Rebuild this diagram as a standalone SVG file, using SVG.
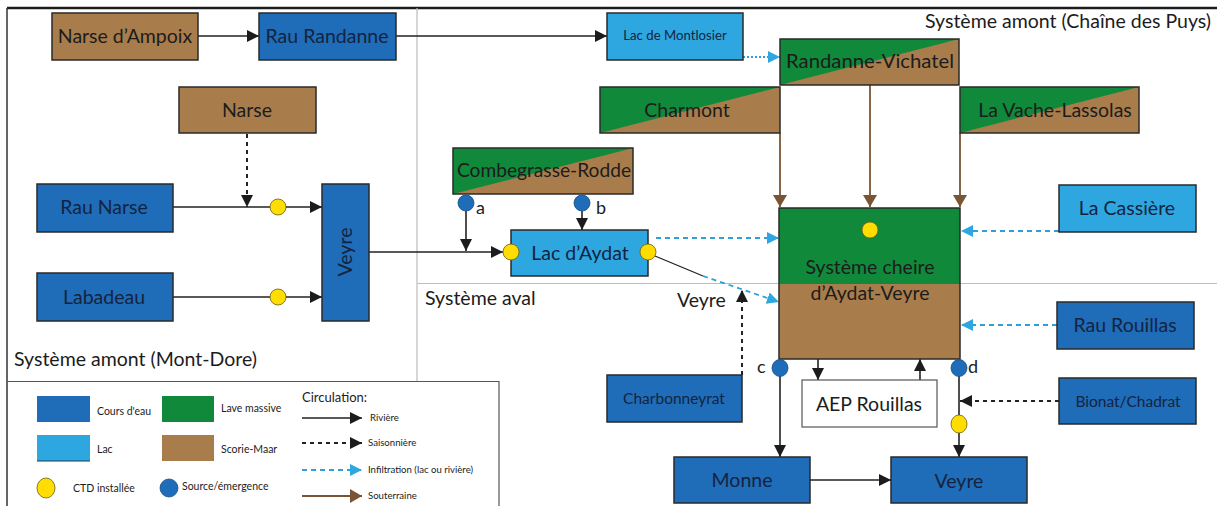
<svg xmlns="http://www.w3.org/2000/svg" width="1217" height="506" viewBox="0 0 1217 506">
<style>
text{font-family:Lato,"Liberation Sans",sans-serif;fill:#1c1c1c}
.big{font-size:19.5px}
.mid{font-size:15.5px}
.sm{font-size:13.2px}
.leg{font-size:10.5px}
.leg2{font-size:9.6px}
.c{text-anchor:middle}
.onblue{fill:#14243f}
.box{stroke:#2a2a2a;stroke-width:1.5}
.brown{fill:#a97c4c}
.green{fill:#10893b}
.blue{fill:#1f6cb8}
.lblue{fill:#2ea7e0}
.ctd{fill:#ffdd00;stroke:#6b5d10;stroke-width:0.8}
.src{fill:#1f6cb8;stroke:#184f86;stroke-width:0.8}
.riv{stroke:#222;stroke-width:1.6;fill:none}
.sai{stroke:#222;stroke-width:2;stroke-dasharray:4 4;fill:none}
.inf{stroke:#2e9fd8;stroke-width:1.8;stroke-dasharray:5 4;fill:none}
.sou{stroke:#7a5535;stroke-width:1.8;fill:none}
.frame{stroke:#bdbdbd;stroke-width:1.2;fill:none}
</style>
<defs>
<marker id="ab" viewBox="0 0 12 12" refX="12" refY="6" markerWidth="12" markerHeight="12" markerUnits="userSpaceOnUse" orient="auto"><path d="M0,0L12,6L0,12z" fill="#1c1c1c"/></marker>
<marker id="al" viewBox="0 0 12 12" refX="12" refY="6" markerWidth="12" markerHeight="12" markerUnits="userSpaceOnUse" orient="auto"><path d="M0,0L12,6L0,12z" fill="#2ea7e0"/></marker>
<marker id="aw" viewBox="0 0 12 14" refX="12" refY="7" markerWidth="12" markerHeight="14" markerUnits="userSpaceOnUse" orient="auto"><path d="M0,0L12,7L0,14z" fill="#7a5535"/></marker>
</defs>
<rect width="1217" height="506" fill="#fff"/>

<g id="frame">
<line x1="7" y1="8" x2="1217" y2="8" stroke="#1c1c1c" stroke-width="2.5"/>
<line x1="7" y1="8" x2="7" y2="506" stroke="#333" stroke-width="1.5"/>
<line class="frame" x1="417" y1="8" x2="417" y2="381"/>
<line class="frame" x1="417" y1="283.5" x2="1217" y2="283.5"/>
<polyline points="7,381.5 499,381.5 499,506" fill="none" stroke="#555" stroke-width="1.2"/>
<text class="big" x="1211" y="28" text-anchor="end">Système amont (Chaîne des Puys)</text>
<text class="big" x="14" y="366">Système amont (Mont-Dore)</text>
<text class="big" x="425" y="305">Système aval</text>
</g>

<g id="connectors">
<line class="riv" x1="198" y1="36" x2="259" y2="36" marker-end="url(#ab)"/>
<line class="riv" x1="396" y1="36" x2="607" y2="36" marker-end="url(#ab)"/>
<line x1="743" y1="57" x2="780" y2="57" stroke="#2e9fd8" stroke-width="1.8" stroke-dasharray="2 2" marker-end="url(#al)"/>
<line class="sai" x1="247" y1="134" x2="247" y2="207" marker-end="url(#ab)"/>
<line class="riv" x1="173" y1="207" x2="322" y2="207" marker-end="url(#ab)"/>
<line class="riv" x1="173" y1="297" x2="322" y2="297" marker-end="url(#ab)"/>
<line class="riv" x1="369" y1="252" x2="503" y2="252" marker-end="url(#ab)"/>
<line class="riv" x1="466" y1="211" x2="466" y2="251" marker-end="url(#ab)"/>
<line class="riv" x1="582" y1="211" x2="582" y2="230" marker-end="url(#ab)"/>
<line class="inf" x1="656" y1="238" x2="779" y2="238" marker-end="url(#al)"/>
<line x1="655" y1="256" x2="703" y2="276" stroke="#222" stroke-width="1.3"/>
<line class="inf" x1="703" y1="276" x2="779" y2="302" marker-end="url(#al)"/>
<line class="sai" x1="742" y1="375" x2="742" y2="290" marker-end="url(#ab)"/>
<line class="sou" x1="780" y1="133" x2="780" y2="207" marker-end="url(#aw)"/>
<line class="sou" x1="870" y1="85" x2="870" y2="207" marker-end="url(#aw)"/>
<line class="sou" x1="960" y1="133" x2="960" y2="207" marker-end="url(#aw)"/>
<line class="inf" x1="1059" y1="231" x2="961" y2="231" marker-end="url(#al)"/>
<line class="inf" x1="1057" y1="325" x2="961" y2="325" marker-end="url(#al)"/>
<line class="riv" x1="818" y1="359" x2="818" y2="380" marker-end="url(#ab)"/>
<line class="riv" x1="920" y1="380" x2="920" y2="359" marker-end="url(#ab)"/>
<line class="riv" x1="780" y1="376" x2="780" y2="457" marker-end="url(#ab)"/>
<line class="riv" x1="959" y1="376" x2="959" y2="415"/>
<line class="riv" x1="959" y1="433" x2="959" y2="457" marker-end="url(#ab)"/>
<line class="sai" x1="1059" y1="401" x2="960" y2="401" marker-end="url(#ab)"/>
<line class="riv" x1="810" y1="480" x2="891" y2="480" marker-end="url(#ab)"/>
</g>

<g id="narse-ampoix"><rect class="box brown" x="52" y="13" width="146" height="47"/><text class="big c" x="125" y="43">Narse d’Ampoix</text></g>
<g id="rau-randanne"><rect class="box blue" x="259" y="13" width="137" height="47"/><text class="big c onblue" x="327" y="43">Rau Randanne</text></g>
<g id="lac-montlosier"><rect class="box lblue" x="607" y="13" width="136" height="47"/><text class="sm c onblue" x="675" y="40">Lac de Montlosier</text></g>
<g id="randanne-vichatel"><rect class="brown" x="780" y="39" width="179" height="46"/><polygon class="green" points="780,39 959,39 780,85"/><rect class="box" fill="none" x="780" y="39" width="179" height="46"/><text class="big c" x="870" y="68" textLength="168" lengthAdjust="spacingAndGlyphs">Randanne-Vichatel</text></g>
<g id="charmont"><rect class="brown" x="600" y="87" width="180" height="46"/><polygon class="green" points="600,87 780,87 600,133"/><rect class="box" fill="none" x="600" y="87" width="180" height="46"/><text class="big c" x="687" y="117">Charmont</text></g>
<g id="vache-lassolas"><rect class="brown" x="960" y="87" width="179" height="46"/><polygon class="green" points="960,87 1139,87 960,133"/><rect class="box" fill="none" x="960" y="87" width="179" height="46"/><text class="big c" x="1055" y="117">La Vache-Lassolas</text></g>
<g id="narse"><rect class="box brown" x="179" y="87" width="137" height="46"/><text class="big c" x="247" y="117">Narse</text></g>
<g id="combegrasse-rodde"><rect class="brown" x="453" y="148" width="180" height="46"/><polygon class="green" points="453,148 633,148 453,194"/><rect class="box" fill="none" x="453" y="148" width="180" height="46"/><text class="big c" x="544" y="177" textLength="174" lengthAdjust="spacingAndGlyphs">Combegrasse-Rodde</text></g>
<g id="rau-narse"><rect class="box blue" x="37" y="184" width="136" height="48"/><text class="big c onblue" x="104" y="214">Rau Narse</text></g>
<g id="labadeau"><rect class="box blue" x="37" y="273" width="136" height="48"/><text class="big c onblue" x="104" y="304">Labadeau</text></g>
<g id="veyre-amont"><rect class="box blue" x="322" y="184" width="47" height="137"/><text class="big c onblue" transform="translate(352,252) rotate(-90)">Veyre</text></g>
<g id="lac-aydat"><rect class="box lblue" x="511" y="230" width="137" height="46"/><text class="big c onblue" x="580" y="260">Lac d’Aydat</text></g>
<g id="systeme-cheire"><rect class="brown" x="779" y="208" width="181" height="151"/><rect class="green" x="779" y="208" width="181" height="76"/><rect class="box" fill="none" x="779" y="208" width="181" height="151" stroke-width="2"/><text class="big c" x="870" y="274">Système cheire</text><text class="big c" x="870" y="300">d’Aydat-Veyre</text></g>
<g id="la-cassiere"><rect class="box lblue" x="1059" y="185" width="137" height="47"/><text class="big c onblue" x="1127" y="215">La Cassière</text></g>
<g id="rau-rouillas"><rect class="box blue" x="1057" y="302" width="137" height="47"/><text class="big c onblue" x="1125" y="332">Rau Rouillas</text></g>
<g id="charbonneyrat"><rect class="box blue" x="607" y="375" width="135" height="47"/><text class="mid c onblue" x="674" y="404">Charbonneyrat</text></g>
<g id="aep-rouillas"><rect x="802" y="380" width="135" height="47" fill="#fff" stroke="#555" stroke-width="1.2"/><text class="big c" x="869" y="411">AEP Rouillas</text></g>
<g id="bionat-chadrat"><rect class="box blue" x="1059" y="378" width="137" height="46"/><text class="mid c onblue" x="1128" y="407">Bionat/Chadrat</text></g>
<g id="monne"><rect class="box blue" x="674" y="457" width="136" height="46"/><text class="big c onblue" x="742" y="487">Monne</text></g>
<g id="veyre-aval"><rect class="box blue" x="891" y="457" width="136" height="46"/><text class="big c onblue" x="959" y="488">Veyre</text></g>

<g id="points">
<circle class="ctd" cx="278" cy="207" r="8"/>
<circle class="ctd" cx="278" cy="297" r="8"/>
<circle class="ctd" cx="511" cy="252" r="8"/>
<circle class="ctd" cx="648" cy="252" r="8"/>
<circle class="ctd" cx="870" cy="230" r="8"/>
<ellipse class="ctd" cx="959" cy="424" rx="8" ry="9"/>
<circle class="src" cx="466" cy="203" r="8"/>
<circle class="src" cx="582" cy="203" r="8"/>
<ellipse class="src" cx="780" cy="368" rx="8" ry="8.5"/>
<ellipse class="src" cx="959" cy="368" rx="8" ry="8.5"/>
<text x="476" y="214" font-size="18">a</text>
<text x="596" y="214" font-size="18">b</text>
<text x="757" y="373" font-size="18">c</text>
<text x="968" y="373" font-size="18">d</text>
<text class="big" x="677" y="307">Veyre</text>
</g>

<g id="legend">
<rect class="blue" x="37" y="396" width="53" height="26"/>
<text class="leg" x="97" y="415">Cours d'eau</text>
<rect class="green" x="162" y="396" width="52" height="26"/>
<text class="leg" x="221" y="412">Lave massive</text>
<rect class="lblue" x="37" y="435" width="53" height="26"/>
<line x1="37" y1="461" x2="90" y2="461" stroke="#1a3a5a" stroke-width="1"/>
<text class="leg" x="97" y="453">Lac</text>
<rect class="brown" x="162" y="435" width="52" height="26"/>
<text class="leg" x="221" y="453">Scorie-Maar</text>
<ellipse class="ctd" cx="46" cy="488" rx="9" ry="10"/>
<text class="leg" x="73" y="492" font-size="11">CTD installée</text>
<circle class="src" cx="169" cy="488" r="9"/>
<text class="leg" x="182" y="490" font-size="11">Source/émergence</text>
<text x="302" y="402" font-size="13">Circulation:</text>
<line class="riv" x1="302" y1="418" x2="362" y2="418" stroke-width="1.8" marker-end="url(#ab)"/>
<text class="leg2" x="370" y="421">Rivière</text>
<line class="sai" x1="302" y1="443" x2="362" y2="443" stroke-dasharray="3 4" marker-end="url(#ab)"/>
<text class="leg2" x="368" y="446">Saisonnière</text>
<line class="inf" x1="302" y1="470" x2="362" y2="470" stroke-dasharray="3 4" marker-end="url(#al)"/>
<text class="leg2" x="368" y="473">Infiltration (lac ou rivière)</text>
<line class="sou" x1="302" y1="496" x2="362" y2="496" marker-end="url(#aw)"/>
<text class="leg2" x="368" y="499">Souterraine</text>
</g>
</svg>
